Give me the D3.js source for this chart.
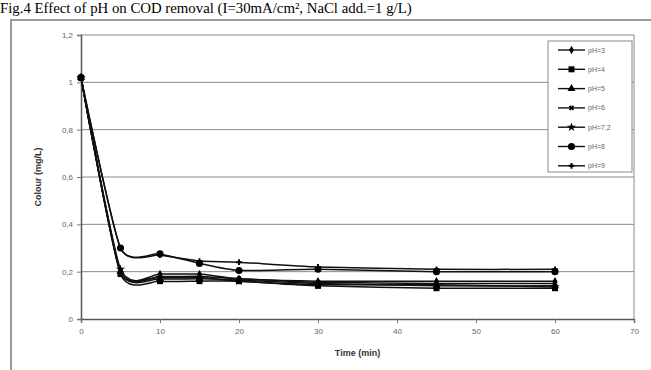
<!DOCTYPE html>
<html><head><meta charset="utf-8">
<script src="https://cdn.jsdelivr.net/npm/d3@7"></script>
<style>body{margin:0;background:#fff;} svg{display:block;}</style>
</head><body>
<svg id="c" width="651" height="370"></svg>
<script>
const times = [0, 5, 10, 15, 20, 30, 45, 60];
const seriesNames = ["pH=3", "pH=4", "pH=5", "pH=6", "pH=7,2", "pH=8", "pH=9"];
const pH3  = [1.02, 0.20, 0.19, 0.19, 0.17, 0.16, 0.16, 0.16];
const pH4  = [1.02, 0.19, 0.16, 0.16, 0.16, 0.14, 0.13, 0.13];
const pH5  = [1.02, 0.20, 0.17, 0.17, 0.165, 0.15, 0.14, 0.14];
const pH6  = [1.02, 0.20, 0.18, 0.18, 0.17, 0.155, 0.15, 0.15];
const pH72 = [1.02, 0.21, 0.175, 0.175, 0.16, 0.145, 0.145, 0.135];
const pH8  = [1.02, 0.30, 0.275, 0.235, 0.205, 0.21, 0.20, 0.20];
const pH9  = [1.02, 0.30, 0.27, 0.245, 0.24, 0.22, 0.21, 0.21];
const seriesValues = [pH3, pH4, pH5, pH6, pH72, pH8, pH9];
const xTicks = [0, 10, 20, 30, 40, 50, 60, 70];
const yTicks = [0, 0.2, 0.4, 0.6, 0.8, 1, 1.2];
const titleText = "Fig.4 Effect of pH on COD removal (I=30mA/cm², NaCl add.=1 g/L)";
const xTitle = "Time (min)";
const yTitle = "Colour (mg/L)";

const svg = d3.select("#c");
const L = 81, R = 634, T = 35, B = 319;
const x = d3.scaleLinear().domain([0, 70]).range([L, R]);
const y = d3.scaleLinear().domain([0, 1.2]).range([B, T]);

// title
svg.append("text").attr("x", 0).attr("y", 13)
  .attr("font-family", "Liberation Serif, Times New Roman, serif")
  .attr("font-size", 14.8).attr("fill", "#000").text(titleText);

// outer frame
svg.append("rect").attr("x", 11).attr("y", 20).attr("width", 700).attr("height", 400)
  .attr("fill", "#fff").attr("stroke", "#9a9a9a").attr("stroke-width", 2);

// gridlines
svg.append("g").selectAll("line").data(yTicks.filter(d => d > 0)).join("line")
  .attr("x1", L).attr("x2", R).attr("y1", d => y(d)).attr("y2", d => y(d))
  .attr("stroke", "#8a8a8a").attr("stroke-width", 1);
// right border
svg.append("line").attr("x1", R).attr("x2", R).attr("y1", T).attr("y2", B)
  .attr("stroke", "#8a8a8a").attr("stroke-width", 1);

const fmt = d => d3.format("~g")(d).replace(".", ",");
const yAxis = svg.append("g").attr("transform", `translate(${L},0)`)
  .call(d3.axisLeft(y).tickValues(yTicks).tickFormat(fmt).tickSize(4).tickPadding(4));
const xAxis = svg.append("g").attr("transform", `translate(0,${B})`)
  .call(d3.axisBottom(x).tickValues(xTicks).tickFormat(d3.format("d")).tickSize(4).tickPadding(5));
[yAxis, xAxis].forEach(a => {
  a.select(".domain").attr("stroke", "#555").attr("stroke-width", 1.5);
  a.selectAll(".tick line").attr("stroke", "#777");
  a.selectAll("text").attr("font-family", "Arial, Liberation Sans, sans-serif")
    .attr("font-size", 8).attr("fill", "#666");
});

svg.append("text").attr("x", (L + R) / 2 - 0).attr("y", 356).attr("text-anchor", "middle")
  .attr("font-family", "Arial, Liberation Sans, sans-serif").attr("font-weight", "bold")
  .attr("font-size", 9).attr("fill", "#333").text(xTitle);
svg.append("text").attr("transform", `translate(41,${(T + B) / 2}) rotate(-90)`)
  .attr("text-anchor", "middle")
  .attr("font-family", "Arial, Liberation Sans, sans-serif").attr("font-weight", "bold")
  .attr("font-size", 9).attr("fill", "#333").text(yTitle);

// markers
const symTypes = [d3.symbolDiamond, d3.symbolSquare, d3.symbolTriangle, d3.symbolCross, d3.symbolStar, d3.symbolCircle, d3.symbolCross];
const symSizes = [20, 36, 28, 18, 26, 40, 18];
const line = d3.line().x((d, i) => x(times[i])).y(d => y(d)).curve(d3.curveCardinal.tension(0.4));

const gS = svg.append("g");
seriesValues.forEach((vals, si) => {
  gS.append("path").attr("d", line(vals)).attr("fill", "none")
    .attr("stroke", "#111").attr("stroke-width", 1.5);
  gS.append("g").selectAll("path").data(vals).join("path")
    .attr("transform", (d, i) => `translate(${x(times[i])},${y(d)})` + (si === 3 ? " rotate(45)" : ""))
    .attr("d", d3.symbol().type(symTypes[si]).size(symSizes[si]))
    .attr("fill", "#000");
});

// legend
const lg = svg.append("g");
lg.append("rect").attr("x", 548).attr("y", 41).attr("width", 84).attr("height", 131)
  .attr("fill", "#fff").attr("stroke", "#8a8a8a").attr("stroke-width", 1);
seriesNames.forEach((n, i) => {
  const yy = 50 + i * 19.3;
  lg.append("line").attr("x1", 558).attr("x2", 585).attr("y1", yy).attr("y2", yy)
    .attr("stroke", "#111").attr("stroke-width", 1.4);
  lg.append("path").attr("transform", `translate(571.5,${yy})` + (i === 3 ? " rotate(45)" : ""))
    .attr("d", d3.symbol().type(symTypes[i]).size(symSizes[i])).attr("fill", "#000");
  lg.append("text").attr("x", 588).attr("y", yy + 2.5)
    .attr("font-family", "Arial, Liberation Sans, sans-serif").attr("font-size", 7)
    .attr("fill", "#666").text(n);
});
</script>
</body></html>
